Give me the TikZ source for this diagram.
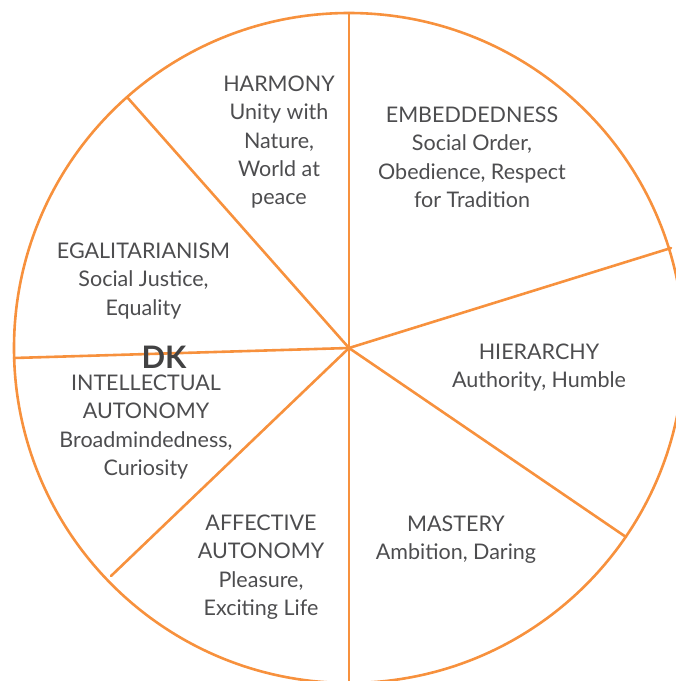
\documentclass[tikz,border=0pt]{standalone}
\usepackage{fontspec}
\setmainfont{Lato}
\definecolor{spoke}{HTML}{F7913D}
\definecolor{txt}{HTML}{4D4D4F}
\begin{document}
\begin{tikzpicture}[x=1pt,y=-1pt,
  spokeline/.style={draw=spoke,line width=2.6pt},
  lbl/.style={text=txt,align=center,font=\fontsize{21.5}{28.4}\selectfont,inner sep=0pt,anchor=north},
  dk/.style={text=txt!85!black,font=\fontsize{31}{31}\selectfont\bfseries,inner sep=0pt}]
\useasboundingbox (0,0) rectangle (676,681);
\clip (0,0) rectangle (676,681);
\coordinate (c) at (349,348);
\draw[spokeline] (c) circle[radius=335];
\path (c) ++(0,-335) coordinate (top);
\path (c) ++(0,335) coordinate (bot);
\path (c) ++(-222,-251) coordinate (ul);
\path (c) ++(-335,10) coordinate (le);
\path (c) ++(-238,228) coordinate (ll);
\path (c) ++(277,189) coordinate (lr);
\path (c) ++(322,-100) coordinate (ur);
\foreach \p in {top,bot,ul,le,ll,lr,ur} \draw[spokeline,line cap=round] (c) -- (\p);
\node[lbl] (harmony) at (279,75.5) {HARMONY\\Unity with\\Nature,\\World at\\peace};
\node[lbl] (embed) at (472,106.5) {EMBEDDEDNESS\\Social Order,\\Obedience, Respect\\for Tradition};
\node[lbl] (egal) at (143.5,242.5) {EGALITARIANISM\\Social Justice,\\Equality};
\node[lbl] (hier) at (539,343.5) {HIERARCHY\\Authority, Humble};
\node[lbl] (intel) at (146,374.5) {INTELLECTUAL\\AUTONOMY\\Broadmindedness,\\Curiosity};
\node[lbl] (affect) at (261,514.5) {AFFECTIVE\\AUTONOMY\\Pleasure,\\Exciting Life};
\node[lbl] (mast) at (456,515.5) {MASTERY\\Ambition, Daring};
\node[dk] (dkl) at (164,357) {DK};
\end{tikzpicture}
\end{document}
